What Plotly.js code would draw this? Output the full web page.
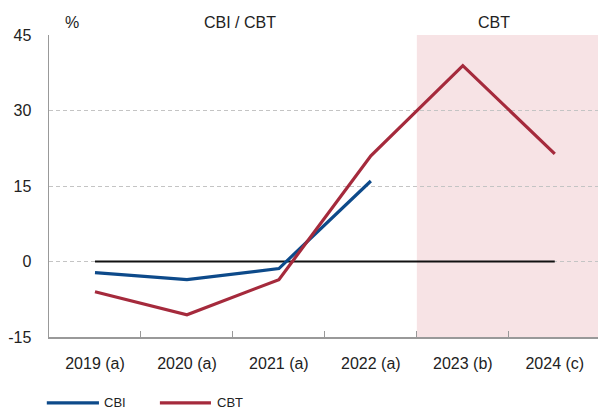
<!DOCTYPE html>
<html>
<head>
<meta charset="utf-8">
<script src="https://cdn.plot.ly/plotly-3.0.1.min.js"></script>
<style>
  html, body { margin: 0; padding: 0; background: #fff; }
  #chart { width: 598px; height: 410px; }
</style>
</head>
<body>
<div id="chart"></div>
<script>
// years on the x axis
const years = ['2019 (a)', '2020 (a)', '2021 (a)', '2022 (a)', '2023 (b)', '2024 (c)'];
// % change
const cbi = [-2.2, -3.6, -1.4, 16.0, null, null];
const cbt = [-6.0, -10.6, -3.6, 21.0, 38.9, 21.4];
const zeroLine = [0, 0, 0, 0, 0, 0];
const yTicks = [-15, 0, 15, 30, 45];
const yTickText = ['-15', '0', '15', '30', '45'];

const blue = '#0d4a8a';
const red = '#a52a3c';
const tickFont = { family: 'Liberation Sans, Arial, sans-serif', size: 16, color: '#222' };
const legendFont = { family: 'Liberation Sans Narrow, Arial Narrow, Liberation Sans, sans-serif', size: 13, color: '#222' };

const traces = [
  {
    x: years, y: zeroLine, type: 'scatter', mode: 'lines',
    line: { color: '#111', width: 2 }, showlegend: false, hoverinfo: 'skip'
  },
  {
    x: years, y: cbi, name: 'CBI', type: 'scatter', mode: 'lines',
    line: { color: blue, width: 3.2 }
  },
  {
    x: years, y: cbt, name: 'CBT', type: 'scatter', mode: 'lines',
    line: { color: red, width: 3.2 }
  }
];

// legend drawn by hand so the plot area keeps its size
const legY = -0.218;
const legendShapes = [
  { type: 'line', xref: 'paper', yref: 'paper', x0: -0.004, x1: 0.091, y0: legY, y1: legY, line: { color: blue, width: 3.2 } },
  { type: 'line', xref: 'paper', yref: 'paper', x0: 0.202, x1: 0.295, y0: legY, y1: legY, line: { color: red, width: 3.2 } }
];
const legendNotes = [
  { text: 'CBI', xref: 'paper', yref: 'paper', x: 0.098, y: legY, xanchor: 'left', yanchor: 'middle', borderpad: 0, showarrow: false, font: legendFont },
  { text: 'CBT', xref: 'paper', yref: 'paper', x: 0.305, y: legY, xanchor: 'left', yanchor: 'middle', borderpad: 0, showarrow: false, font: legendFont }
];

const layout = {
  width: 598,
  height: 410,
  margin: { l: 49, r: 0, t: 35, b: 73 },
  paper_bgcolor: '#fff',
  plot_bgcolor: '#fff',
  font: tickFont,
  showlegend: false,
  xaxis: {
    type: 'category',
    range: [-0.5, 5.47],
    showgrid: false,
    showline: true, linecolor: '#999', linewidth: 1.5,
    ticks: 'inside', tickson: 'boundaries', ticklen: 6, tickcolor: '#999',
    ticklabelstandoff: 11,
    tickfont: tickFont,
    fixedrange: true
  },
  yaxis: {
    range: [-15, 45],
    tickvals: yTicks,
    ticktext: yTickText,
    showgrid: true, gridcolor: '#c4c4c4', griddash: '4px,3px', gridwidth: 1,
    zeroline: false,
    showline: true, linecolor: '#999', linewidth: 1.5,
    ticks: '',
    ticklabelstandoff: 13,
    tickfont: tickFont,
    fixedrange: true
  },
  shapes: [
    {
      type: 'rect', layer: 'below',
      xref: 'x', yref: 'y',
      x0: 3.5, x1: 5.6, y0: -15, y1: 45,
      fillcolor: '#f7e3e5', line: { width: 0 }
    }
  ].concat(legendShapes),
  annotations: [
    { text: '%', xref: 'paper', yref: 'paper', x: 0.025, y: 1, yanchor: 'bottom', yshift: 2, showarrow: false, font: tickFont },
    { text: 'CBI / CBT', xref: 'paper', yref: 'paper', x: 0.348, y: 1, yanchor: 'bottom', yshift: 2, showarrow: false, font: tickFont },
    { text: 'CBT', xref: 'paper', yref: 'paper', x: 0.843, y: 1, yanchor: 'bottom', yshift: 2, showarrow: false, font: tickFont }
  ].concat(legendNotes)
};

Plotly.newPlot('chart', traces, layout, { displayModeBar: false, staticPlot: true });
</script>
</body>
</html>
